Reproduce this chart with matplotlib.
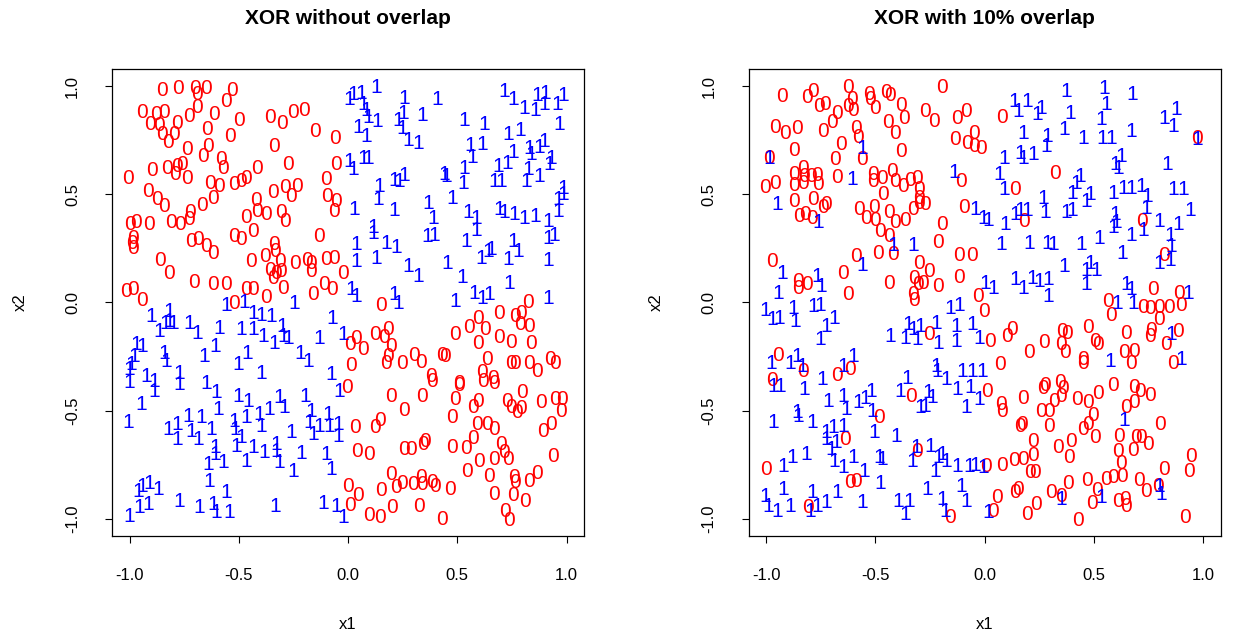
import matplotlib
matplotlib.use("Agg")
import matplotlib.pyplot as plt
import numpy as np

plt.rcParams['font.family'] = ['Liberation Sans', 'DejaVu Sans']

titles = ["XOR without overlap", "XOR with 10% overlap"]
tick_values = [-1.0, -0.5, 0.0, 0.5, 1.0]
tick_labels = ["-1.0", "-0.5", "0.0", "0.5", "1.0"]

# Punkter, (x1, x2) per klass och panel
left_zeros = [
    (-0.85, 0.98), (-0.78, 0.99), (-0.70, 0.99), (-0.65, 0.99), (-0.69, 0.96), (-0.53, 0.98),
    (-0.56, 0.93), (-0.69, 0.90), (-0.945, 0.88), (-0.88, 0.87), (-0.84, 0.88), (-0.73, 0.86),
    (-0.615, 0.87), (-0.905, 0.825), (-0.865, 0.82), (-0.785, 0.83), (-0.85, 0.775), (-0.795, 0.775),
    (-0.825, 0.74), (-0.645, 0.80), (-0.50, 0.84), (-0.54, 0.77), (-0.355, 0.855), (-0.30, 0.83),
    (-0.25, 0.88), (-0.20, 0.89), (-0.15, 0.79), (-0.06, 0.76), (-0.34, 0.72), (-0.735, 0.706),
    (-0.64, 0.72), (-0.665, 0.675), (-0.58, 0.66), (-0.57, 0.62), (-1.005, 0.575), (-0.895, 0.61),
    (-0.83, 0.62), (-0.785, 0.63), (-0.76, 0.64), (-0.79, 0.59), (-0.735, 0.575), (-0.63, 0.55),
    (-0.59, 0.537), (-0.52, 0.545), (-0.49, 0.56), (-0.465, 0.575), (-0.415, 0.62), (-0.275, 0.637),
    (-0.055, 0.64), (-0.10, 0.57), (-0.915, 0.513), (-0.875, 0.475), (-0.84, 0.444), (-0.62, 0.483),
    (-0.67, 0.45), (-0.725, 0.414), (-0.73, 0.383), (-0.42, 0.47), (-0.415, 0.42), (-0.345, 0.51),
    (-0.29, 0.53), (-0.26, 0.49), (-0.235, 0.537), (-0.095, 0.49), (-0.055, 0.467), (-0.065, 0.42),
    (-0.465, 0.393), (-0.375, 0.406), (-0.305, 0.414), (-1.00, 0.363), (-0.97, 0.372), (-0.91, 0.36),
    (-0.81, 0.372), (-0.77, 0.36), (-0.29, 0.375),
    (-0.985, 0.296), (-0.985, 0.25), (-0.988, 0.273), (-0.718, 0.281), (-0.687, 0.289), (-0.65, 0.258),
    (-0.62, 0.227), (-0.524, 0.307), (-0.49, 0.289), (-0.433, 0.327), (-0.34, 0.266), (-0.336, 0.235),
    (-0.382, 0.212), (-0.443, 0.188), (-0.313, 0.188), (-0.356, 0.15), (-0.33, 0.135), (-0.306, 0.142),
    (-0.344, 0.112), (-0.245, 0.18), (-0.19, 0.196), (-0.168, 0.142), (-0.168, 0.18), (-0.10, 0.20),
    (-0.066, 0.204), (-0.133, 0.304), (-0.024, 0.135), (-0.86, 0.196), (-0.82, 0.135), (-1.015, 0.05),
    (-0.985, 0.058), (-0.942, 0.011), (-0.707, 0.092), (-0.616, 0.085), (-0.56, 0.081), (-0.466, 0.058),
    (-0.435, 0.058), (-0.374, 0.024), (-0.298, 0.065), (-0.524, -0.004), (-0.16, 0.039), (-0.112, 0.081),
    (-0.072, 0.058),
    (0.152, -0.016), (0.693, -0.05), (0.762, -0.066), (0.793, -0.05), (0.823, -0.001), (0.785, -0.10),
    (0.83, -0.112), (0.594, -0.073), (0.552, -0.115), (0.625, -0.127), (0.49, -0.15), (0.594, -0.192),
    (0.693, -0.16), (0.744, -0.186), (0.835, -0.192), (0.124, -0.15), (0.182, -0.124), (0.164, -0.161),
    (0.198, -0.204), (0.037, -0.166), (0.007, -0.196), (0.068, -0.216), (0.015, -0.293), (0.182, -0.25),
    (0.175, -0.281), (0.246, -0.284), (0.304, -0.243), (0.332, -0.278), (0.43, -0.247), (0.442, -0.25),
    (0.637, -0.262), (0.747, -0.284), (0.765, -0.281), (0.83, -0.284), (0.866, -0.32), (0.922, -0.266),
    (0.948, -0.284), (0.613, -0.324), (0.663, -0.35), (0.381, -0.343), (0.51, -0.373),
    (-0.004, -0.392), (0.198, -0.434), (0.256, -0.50), (0.338, -0.434), (0.384, -0.364), (0.51, -0.383),
    (0.617, -0.367), (0.668, -0.376), (0.796, -0.418), (0.49, -0.449), (0.571, -0.488), (0.594, -0.457),
    (0.728, -0.457), (0.747, -0.488), (0.774, -0.511), (0.79, -0.491), (0.884, -0.464), (0.948, -0.449),
    (0.978, -0.449), (0.973, -0.503), (0.475, -0.53), (0.03, -0.577), (0.124, -0.577), (0.144, -0.546),
    (0.591, -0.565), (0.637, -0.565), (0.668, -0.588), (0.93, -0.565), (0.892, -0.598), (0.042, -0.688),
    (0.098, -0.703), (0.256, -0.68), (0.286, -0.68), (0.342, -0.657), (0.353, -0.641), (0.475, -0.672),
    (0.541, -0.675), (0.571, -0.629), (0.597, -0.734), (0.668, -0.726), (0.701, -0.657), (0.713, -0.695),
    (0.732, -0.726), (0.938, -0.711), (0.545, -0.78), (0.643, -0.803), (0.759, -0.808), (0.762, -0.834),
    (0.826, -0.829), (0.866, -0.792), (0.198, -0.795), (0.246, -0.839), (0.297, -0.842), (0.335, -0.811),
    (0.338, -0.842), (0.384, -0.834), (0.396, -0.849), (0.465, -0.865), (-0.001, -0.849), (0.045, -0.895),
    (0.007, -0.937), (0.152, -0.87), (0.22, -0.857), (0.668, -0.888), (0.754, -0.891), (0.808, -0.919),
    (0.201, -0.946), (0.323, -0.942), (0.094, -0.983), (0.144, -0.996), (0.43, -1.003), (0.72, -0.965),
    (0.735, -1.008),
]

left_ones = [
    (0.007, 0.937), (0.022, 0.96), (0.06, 0.968), (0.13, 0.994), (0.068, 0.914), (0.083, 0.886),
    (0.094, 0.855), (0.133, 0.837), (0.045, 0.81), (0.083, 0.768), (0.256, 0.945), (0.408, 0.941),
    (0.251, 0.875), (0.23, 0.84), (0.246, 0.806), (0.274, 0.748), (0.323, 0.737), (0.338, 0.864),
    (0.53, 0.84), (0.622, 0.822), (0.716, 0.975), (0.755, 0.937), (0.808, 0.895), (0.857, 0.89),
    (0.866, 0.957), (0.90, 0.968), (0.896, 0.914), (0.957, 0.917), (0.983, 0.957), (0.968, 0.822),
    (0.731, 0.775), (0.79, 0.794), (0.56, 0.726), (0.613, 0.732), (0.567, 0.67), (0.755, 0.695),
    (0.83, 0.714), (0.838, 0.683), (0.876, 0.717), (0.896, 0.745), (0.93, 0.668), (0.922, 0.637),
    (0.686, 0.629), (0.728, 0.645), (0.67, 0.56), (0.70, 0.56), (0.815, 0.56), (0.826, 0.614),
    (0.876, 0.583), (0.533, 0.62), (0.526, 0.552), (0.439, 0.594), (0.45, 0.583), (0.007, 0.652),
    (0.022, 0.614), (0.068, 0.668), (0.09, 0.668), (0.21, 0.563), (0.236, 0.56), (0.256, 0.588),
    (0.144, 0.537), (0.137, 0.475), (0.03, 0.43), (0.21, 0.425), (0.368, 0.46), (0.475, 0.483),
    (0.388, 0.39), (0.55, 0.414), (0.587, 0.39), (0.693, 0.429), (0.716, 0.418), (0.762, 0.406),
    (0.808, 0.39), (0.857, 0.398), (0.915, 0.375), (0.96, 0.42), (0.96, 0.475), (0.983, 0.529),
    (0.983, 0.498), (0.114, 0.345),
    (0.114, 0.319), (0.037, 0.266), (0.175, 0.273), (0.22, 0.255), (0.362, 0.304), (0.393, 0.312),
    (0.587, 0.335), (0.541, 0.281), (0.61, 0.204), (0.64, 0.235), (0.655, 0.246), (0.755, 0.281),
    (0.777, 0.235), (0.732, 0.20), (0.915, 0.296), (0.942, 0.312), (0.915, 0.196), (0.037, 0.188),
    (0.129, 0.204), (0.274, 0.165), (0.323, 0.119), (0.454, 0.181), (0.521, 0.116), (0.739, 0.088),
    (0.015, 0.058), (0.037, 0.027), (0.21, 0.035), (0.231, -0.004), (0.49, 0.004), (0.576, 0.042),
    (0.613, 0.019), (0.648, 0.035), (0.918, 0.019),
    (-0.557, -0.012), (-0.474, -0.001), (-0.245, -0.007), (-0.90, -0.066), (-0.817, -0.042),
    (-0.862, -0.135), (-0.835, -0.096), (-0.817, -0.089), (-0.80, -0.096), (-0.728, -0.096),
    (-0.692, -0.143), (-0.588, -0.12), (-0.489, -0.127), (-0.435, -0.127), (-0.435, -0.05),
    (-0.397, -0.058), (-0.35, -0.066), (-0.39, -0.158), (-0.336, -0.189), (-0.30, -0.112),
    (-0.298, -0.158), (-0.275, -0.166), (-0.072, -0.073), (-0.13, -0.166), (-0.024, -0.15),
    (-0.97, -0.196), (-0.94, -0.204), (-0.977, -0.25), (-0.84, -0.235), (-0.83, -0.273),
    (-0.66, -0.25), (-0.61, -0.204), (-0.463, -0.235), (-0.504, -0.289), (-0.397, -0.327),
    (-0.22, -0.235), (-0.184, -0.273), (-1.0, -0.312), (-0.992, -0.289), (-0.924, -0.343),
    (-0.886, -0.366), (-0.774, -0.327), (-0.077, -0.335), (-0.65, -0.373),
    (-1.0, -0.372), (-0.886, -0.41), (-0.771, -0.38), (-0.603, -0.418), (-0.596, -0.495),
    (-0.504, -0.434), (-0.458, -0.457), (-0.946, -0.472), (-1.008, -0.557), (-0.825, -0.588),
    (-0.78, -0.565), (-0.733, -0.526), (-0.718, -0.595), (-0.687, -0.634), (-0.78, -0.634),
    (-0.672, -0.534), (-0.626, -0.588), (-0.52, -0.549), (-0.515, -0.588), (-0.466, -0.534),
    (-0.408, -0.518), (-0.397, -0.572), (-0.362, -0.495), (-0.313, -0.441), (-0.29, -0.488),
    (-0.194, -0.434), (-0.168, -0.503), (-0.176, -0.557), (-0.16, -0.61), (-0.13, -0.572),
    (-0.092, -0.518), (-0.085, -0.572), (-0.046, -0.565), (-0.046, -0.618), (-0.26, -0.603),
    (-0.512, -0.665), (-0.489, -0.626), (-0.432, -0.672), (-0.382, -0.695), (-0.33, -0.657),
    (-0.33, -0.688), (-0.61, -0.672), (-0.61, -0.703), (-0.573, -0.742), (-0.641, -0.749),
    (-0.466, -0.734), (-0.316, -0.742), (-0.214, -0.70), (-0.252, -0.78), (-0.10, -0.703),
    (-0.077, -0.772), (-0.039, -0.41), (-0.962, -0.872), (-0.942, -0.849), (-0.908, -0.839),
    (-0.87, -0.865), (-0.957, -0.949), (-0.916, -0.934), (-1.0, -0.988), (-0.774, -0.919),
    (-0.637, -0.826), (-0.68, -0.949), (-0.618, -0.934), (-0.603, -0.972), (-0.557, -0.88),
    (-0.545, -0.972), (-0.332, -0.942), (-0.115, -0.931), (-0.054, -0.942), (-0.024, -0.996),
]

right_zeros = [
    (-0.927, 0.952), (-0.814, 0.948), (-0.786, 0.975), (-0.756, 0.906), (-0.73, 0.917), (-0.624, 0.994),
    (-0.605, 0.937), (-0.624, 0.906), (-0.60, 0.886), (-0.677, 0.875), (-0.70, 0.834), (-0.529, 0.96),
    (-0.523, 0.94), (-0.503, 0.898), (-0.453, 0.972), (-0.432, 0.957), (-0.382, 0.911), (-0.367, 0.852),
    (-0.443, 0.834), (-0.412, 0.783), (-0.271, 0.883), (-0.23, 0.837), (-0.195, 0.994), (-0.124, 0.852),
    (-0.086, 0.883), (-0.958, 0.809), (-0.912, 0.783), (-0.859, 0.803), (-0.741, 0.791), (-0.586, 0.803),
    (-0.579, 0.763), (-0.659, 0.732), (-0.685, 0.66), (-0.559, 0.66), (-0.871, 0.701), (-0.382, 0.698),
    (-0.135, 0.752), (-0.079, 0.737), (-0.049, 0.783), (-0.049, 0.721), (-0.018, 0.714), (-0.988, 0.668),
    (-1.003, 0.532), (-0.958, 0.552), (-0.874, 0.591), (-0.874, 0.542), (-0.832, 0.621), (-0.826, 0.583),
    (-0.795, 0.583), (-0.768, 0.588), (-0.76, 0.544), (-0.832, 0.552), (-0.674, 0.578), (-0.51, 0.591),
    (-0.51, 0.56), (-0.468, 0.575), (-0.423, 0.606), (-0.412, 0.56), (-0.371, 0.537), (-0.341, 0.563),
    (-0.31, 0.575), (-0.298, 0.521), (-0.465, 0.498), (-0.109, 0.56), (-0.871, 0.468), (-0.783, 0.475),
    (-0.738, 0.44), (-0.726, 0.452), (-0.301, 0.483), (-0.298, 0.46), (-0.271, 0.452), (-0.574, 0.429),
    (-0.507, 0.44), (-0.438, 0.414), (-0.329, 0.429), (-0.851, 0.398), (-0.821, 0.409), (-0.791, 0.388),
    (-0.544, 0.39), (-0.503, 0.378), (-0.412, 0.372), (-0.362, 0.378), (-0.193, 0.363), (-0.094, 0.44),
    (0.08, 0.855), (0.323, 0.598), (0.141, 0.521), (0.179, 0.375), (0.721, 0.375), (0.974, 0.76),
    (-0.48, 0.327), (-0.435, 0.307), (-0.215, 0.276), (-0.973, 0.188), (-0.589, 0.212), (-0.488, 0.227),
    (-0.42, 0.224), (-0.299, 0.181), (-0.253, 0.142), (-0.321, 0.112), (-0.306, 0.085), (-0.283, 0.088),
    (-0.211, 0.076), (-0.117, 0.219), (-0.059, 0.215), (-0.117, 0.116), (-0.647, 0.135), (-0.852, 0.096),
    (-0.852, 0.065), (-0.811, 0.081), (-0.624, 0.035), (-0.435, 0.088), (-0.326, 0.039), (-0.321, 0.011),
    (-0.029, 0.027), (-0.003, -0.042), (-0.256, -0.15), (-0.943, -0.243), (-0.829, -0.32),
    (-0.674, -0.34), (-0.614, -0.312), (-0.973, -0.361),
    (0.823, 0.219), (0.565, 0.004), (0.58, -0.062), (0.724, -0.023), (0.758, -0.027), (0.773, 0.058),
    (0.80, -0.023), (0.797, -0.077), (0.843, -0.023), (0.891, 0.042), (0.899, -0.012), (0.883, -0.135),
    (0.762, -0.13), (0.758, -0.158), (0.831, -0.196), (0.861, -0.281), (0.649, -0.142), (0.637, -0.232),
    (0.682, -0.227), (0.671, -0.281), (0.474, -0.115), (0.505, -0.181), (0.52, -0.196), (0.353, -0.135),
    (0.379, -0.142), (0.349, -0.196), (0.368, -0.232), (0.27, -0.186), (0.202, -0.232), (0.126, -0.127),
    (0.103, -0.158), (0.027, -0.181), (0.07, -0.289), (0.452, -0.266), (0.452, -0.284),
    (-0.336, -0.434), (-0.483, -0.531), (-0.639, -0.634), (-0.311, -0.691), (-0.998, -0.772),
    (-0.614, -0.834), (-0.589, -0.829), (-0.806, -0.949), (-0.159, -0.993),
    (0.012, -0.41), (0.076, -0.472), (0.08, -0.503), (0.176, -0.444), (0.277, -0.383), (0.267, -0.40),
    (0.346, -0.372), (0.361, -0.398), (0.349, -0.434), (0.318, -0.457), (0.293, -0.503), (0.258, -0.506),
    (0.424, -0.449), (0.474, -0.464), (0.52, -0.423), (0.497, -0.521), (0.588, -0.383), (0.682, -0.392),
    (0.712, -0.41), (0.755, -0.429), (0.682, -0.464), (0.649, -0.484), (0.161, -0.572), (0.171, -0.565),
    (0.293, -0.572), (0.452, -0.588), (0.474, -0.565), (0.505, -0.626), (0.615, -0.618), (0.691, -0.626),
    (0.717, -0.623), (0.747, -0.657), (0.679, -0.685), (0.611, -0.688), (0.626, -0.746), (0.803, -0.565),
    (0.221, -0.641), (0.338, -0.672), (0.394, -0.641), (0.388, -0.715), (0.221, -0.706), (0.176, -0.726),
    (0.134, -0.731), (0.08, -0.752), (0.209, -0.788), (0.232, -0.788), (0.005, -0.757), (0.944, -0.711),
    (0.937, -0.78), (0.823, -0.772), (0.709, -0.823), (0.793, -0.849), (0.737, -0.872), (0.63, -0.803),
    (0.588, -0.811), (0.555, -0.819), (0.47, -0.823), (0.384, -0.839), (0.515, -0.869), (0.49, -0.931),
    (0.611, -0.919), (0.641, -0.911), (0.646, -0.942), (0.303, -0.88), (0.349, -0.896), (0.237, -0.934),
    (0.194, -0.98), (0.141, -0.88), (0.152, -0.865), (0.055, -0.90), (0.04, -0.965), (0.429, -1.008),
    (0.918, -0.996),
]

right_ones = [
    (-0.984, 0.668), (-0.559, 0.714), (-0.605, 0.568), (-0.14, 0.603), (-0.95, 0.455), (-0.761, 0.372),
    (-0.044, 0.429), (-0.008, 0.388), (0.017, 0.378),
    (0.134, 0.929), (0.156, 0.883), (0.194, 0.929), (0.24, 0.868), (0.258, 0.895), (0.373, 0.975),
    (0.391, 0.875), (0.546, 0.988), (0.558, 0.914), (0.535, 0.845), (0.676, 0.963), (0.179, 0.783),
    (0.285, 0.768), (0.282, 0.721), (0.364, 0.798), (0.452, 0.76), (0.54, 0.76), (0.58, 0.76),
    (0.671, 0.791), (0.823, 0.852), (0.876, 0.891), (0.861, 0.814), (0.974, 0.752), (0.091, 0.668),
    (0.161, 0.691), (0.179, 0.668), (0.221, 0.686), (0.065, 0.591), (0.091, 0.521), (0.596, 0.637),
    (0.626, 0.675), (0.611, 0.621), (0.834, 0.637), (0.437, 0.583), (0.421, 0.552), (0.399, 0.506),
    (0.27, 0.483), (0.277, 0.414), (0.164, 0.425), (0.194, 0.425), (0.141, 0.406), (0.373, 0.414),
    (0.399, 0.425), (0.464, 0.468), (0.482, 0.498), (0.588, 0.506), (0.633, 0.529), (0.671, 0.529),
    (0.717, 0.537), (0.743, 0.491), (0.861, 0.521), (0.909, 0.521), (0.94, 0.425), (0.096, 0.36),
    (0.60, 0.406), (0.603, 0.368), (0.74, 0.437), (0.80, 0.375), (0.888, 0.36),
    (-0.42, 0.265), (-0.326, 0.265), (-0.559, 0.173), (-0.927, 0.135), (-0.768, 0.119), (-0.746, 0.073),
    (-0.943, 0.042), (-1.003, -0.035), (-0.973, -0.081), (-0.938, -0.073), (-0.874, -0.027),
    (-0.866, -0.089), (-0.783, -0.019), (-0.753, -0.012), (-0.726, -0.112), (-0.689, -0.073),
    (-0.75, -0.173), (-0.432, -0.158), (-0.362, -0.166), (-0.351, -0.104), (-0.326, -0.127),
    (-0.31, -0.173), (-0.295, -0.112), (-0.223, -0.096), (-0.21, -0.189), (-0.159, -0.027),
    (-0.117, -0.012), (-0.132, -0.112), (-0.132, -0.181), (-0.056, -0.104), (-0.026, -0.166),
    (-0.977, -0.281), (-0.889, -0.281), (-0.859, -0.25), (-0.836, -0.297), (-0.647, -0.297),
    (-0.599, -0.25), (-0.741, -0.355), (-0.352, -0.35), (-0.223, -0.297), (-0.215, -0.32),
    (-0.177, -0.355), (-0.102, -0.32), (-0.056, -0.32), (-0.01, -0.32),
    (0.59, 0.345), (0.671, 0.312), (0.724, 0.335), (0.849, 0.312), (0.076, 0.266), (0.206, 0.273),
    (0.285, 0.273), (0.312, 0.266), (0.444, 0.266), (0.524, 0.296), (0.63, 0.227), (0.853, 0.258),
    (0.80, 0.181), (0.849, 0.196), (0.364, 0.165), (0.467, 0.15), (0.485, 0.181), (0.512, 0.15),
    (0.464, 0.081), (0.005, 0.088), (0.04, 0.065), (0.141, 0.104), (0.176, 0.065), (0.217, 0.112),
    (0.252, 0.096), (0.293, 0.104), (0.293, 0.027), (0.606, -0.004), (0.646, 0.081), (0.671, 0.058),
    (0.682, -0.004), (0.933, 0.042), (0.853, -0.15), (0.576, -0.273), (0.899, -0.266),
    (-0.965, -0.387), (-0.935, -0.387), (-0.826, -0.403), (-0.715, -0.457), (-0.647, -0.434),
    (-0.635, -0.495), (-0.579, -0.464), (-0.544, -0.444), (-0.518, -0.41), (-0.514, -0.503),
    (-0.386, -0.41), (-0.295, -0.488), (-0.271, -0.48), (-0.26, -0.418), (-0.241, -0.441),
    (-0.124, -0.403), (-0.064, -0.395), (-0.086, -0.488), (-0.026, -0.449), (-0.965, -0.557),
    (-0.859, -0.511), (-0.851, -0.526), (-0.791, -0.557), (-0.726, -0.603), (-0.723, -0.634),
    (-0.692, -0.58), (-0.68, -0.649), (-0.647, -0.572), (-0.70, -0.68), (-0.689, -0.734),
    (-0.647, -0.765), (-0.599, -0.718), (-0.549, -0.78), (-0.503, -0.603), (-0.405, -0.618),
    (-0.483, -0.718), (-0.468, -0.726), (-0.477, -0.838), (-0.923, -0.757), (-0.882, -0.718),
    (-0.816, -0.703), (-0.329, -0.734), (-0.314, -0.672), (-0.25, -0.665), (-0.226, -0.78),
    (-0.211, -0.718), (-0.192, -0.703), (-0.177, -0.734), (-0.124, -0.757), (-0.071, -0.757),
    (-0.044, -0.753), (-0.008, -0.765), (-1.003, -0.896), (-0.992, -0.942), (-0.947, -0.965),
    (-0.923, -0.865), (-0.889, -0.942), (-0.791, -0.88), (-0.796, -0.965), (-0.765, -0.942),
    (-0.726, -0.926), (-0.674, -0.88), (-0.559, -0.926), (-0.393, -0.919), (-0.347, -0.919),
    (-0.362, -0.98), (-0.261, -0.865), (-0.195, -0.911), (-0.18, -0.965), (-0.109, -0.849),
    (-0.083, -0.919), (0.017, -0.972),
    (0.637, -0.546), (0.349, -0.911), (0.535, -0.903), (0.797, -0.849), (0.808, -0.888),
]

panels = [(left_zeros, left_ones), (right_zeros, right_ones)]

fig = plt.figure(figsize=(12.34, 6.37), dpi=100)
axes = [fig.add_axes([0.0908, 0.1586, 0.3825, 0.7331]),
        fig.add_axes([0.6066, 0.1586, 0.3825, 0.7331])]

for ax, title, (zeros, ones) in zip(axes, titles, panels):
    zeros = np.array(zeros)
    ones = np.array(ones)
    for x, y in zeros:
        ax.text(x, y, "0", color="red", fontsize=15, ha="center", va="center")
    for x, y in ones:
        ax.text(x, y, "1", color="blue", fontsize=15, ha="center", va="center")

    ax.set_xlim(-1.08, 1.08)
    ax.set_ylim(-1.08, 1.08)
    ax.set_xticks(tick_values)
    ax.set_xticklabels(tick_labels)
    ax.set_yticks(tick_values)
    ax.set_yticklabels(tick_labels, rotation=90, va="center")
    ax.tick_params(direction="out", length=5, width=0.8, labelsize=12, pad=18)
    for s in ax.spines.values():
        s.set_linewidth(0.9)

    ax.text(0.5, 1.109, title, transform=ax.transAxes, ha="center", va="center",
            fontsize=15, fontweight="bold")
    ax.set_xlabel("x1", fontsize=12)
    ax.set_ylabel("x2", fontsize=12)
    ax.xaxis.set_label_coords(0.5, -0.19)
    ax.yaxis.set_label_coords(-0.195, 0.5)
    ax.yaxis.label.set_va("center")
    ax.xaxis.label.set_va("center")

fig.savefig("out.png", dpi=100)
